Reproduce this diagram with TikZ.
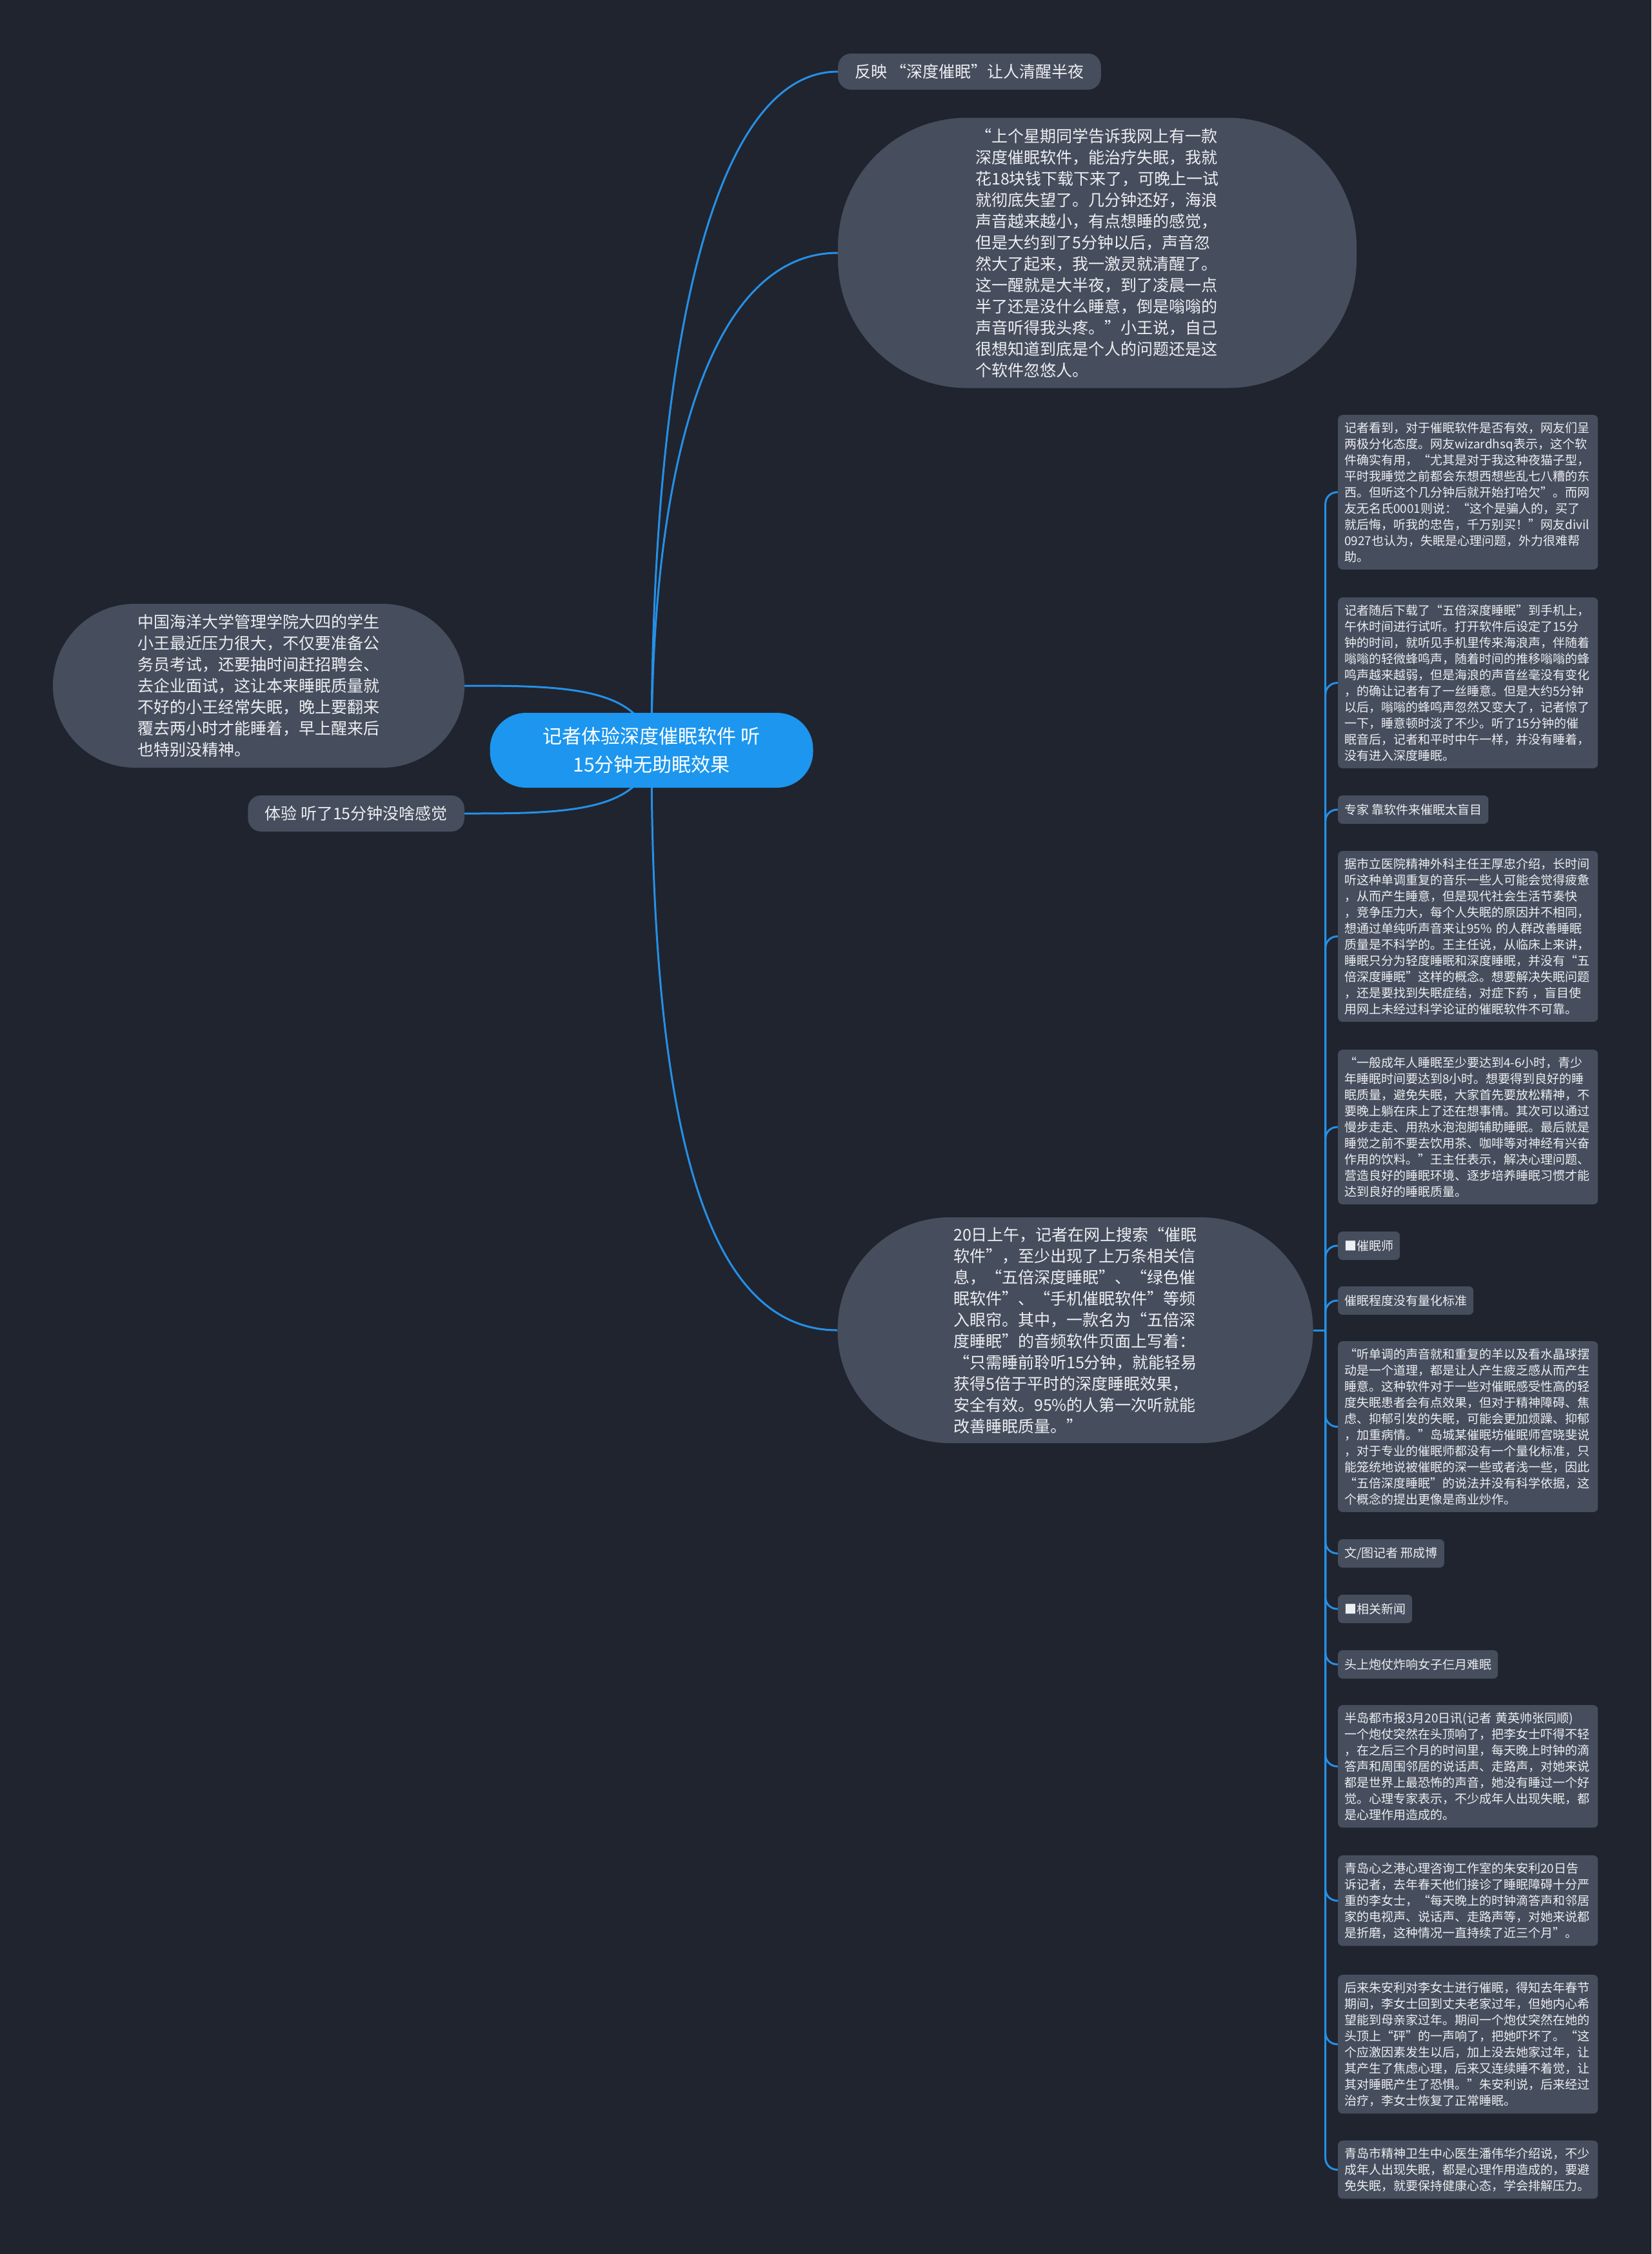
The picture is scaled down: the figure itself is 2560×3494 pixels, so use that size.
\documentclass[tikz,border=0pt]{standalone}
\usepackage{fontspec}
\setmainfont{Noto Sans CJK SC}
\usepackage{tikz}
\usetikzlibrary{backgrounds,calc}
\setlength{\parindent}{0pt}
\definecolor{mmBack}{HTML}{20242F}
\definecolor{mmFill}{HTML}{464D5C}
\definecolor{mmRoot}{HTML}{1C96EE}
\definecolor{mmLine}{HTML}{2590E6}
\definecolor{mmText}{HTML}{ECEEF2}
\tikzset{
  mmroot/.style={fill=mmRoot,text=white,rounded corners=56pt,align=center,
                 minimum width=501pt,minimum height=116pt,font={\fontsize{30}{44}\selectfont}},
  mmbig/.style={fill=mmFill,text=mmText,align=left,font={\fontsize{25}{33}\selectfont}},
  mmtag/.style={fill=mmFill,text=mmText,rounded corners=20pt,inner xsep=26pt,
                minimum height=56pt,font={\fontsize{25}{30}\selectfont}},
  mmnote/.style={fill=mmFill,text=mmText,rounded corners=7pt,align=left,text width=383pt,
                 inner xsep=10pt,inner ysep=11pt,anchor=north west,font={\fontsize{19}{25}\selectfont}},
  mmlabel/.style={fill=mmFill,text=mmText,rounded corners=7pt,inner xsep=10pt,
                  minimum height=44pt,anchor=west,font={\fontsize{19}{25}\selectfont}},
  mmlink/.style={draw=mmLine,line width=3pt},
}

\begin{document}
\begin{tikzpicture}[x=1pt,y=-1pt]
  \useasboundingbox (0,0) rectangle (2560,3494);
  \begin{scope}[on background layer]
    \fill[mmBack] (0,0) rectangle (2560,3494);
  \end{scope}

  % Central topic.
  \node[mmroot] (R) at (1010,1163) {记者体验深度催眠软件 听\\15分钟无助眠效果};

  % Upper branches.
  \node[mmtag,anchor=west] (A) at (1299,111) {反映 “深度催眠”让人清醒半夜};
  \node[mmbig,rounded corners=200pt,minimum width=804pt,minimum height=419pt] (B) at (1701,392)
    {“上个星期同学告诉我网上有一款\\深度催眠软件，能治疗失眠，我就\\花18块钱下载下来了，可晚上一试\\就彻底失望了。几分钟还好，海浪\\声音越来越小，有点想睡的感觉，\\但是大约到了5分钟以后，声音忽\\然大了起来，我一激灵就清醒了。\\这一醒就是大半夜，到了凌晨一点\\半了还是没什么睡意，倒是嗡嗡的\\声音听得我头疼。”小王说，自己\\很想知道到底是个人的问题还是这\\个软件忽悠人。};

  % Left branches.
  \node[mmbig,rounded corners=127pt,minimum width=638pt,minimum height=254pt] (C) at (401,1063)
    {中国海洋大学管理学院大四的学生\\小王最近压力很大，不仅要准备公\\务员考试，还要抽时间赶招聘会、\\去企业面试，这让本来睡眠质量就\\不好的小王经常失眠，晚上要翻来\\覆去两小时才能睡着，早上醒来后\\也特别没精神。};
  \node[mmtag,anchor=east] (D) at (720,1261) {体验 听了15分钟没啥感觉};

  % Lower branch and its notes.
  \node[mmbig,rounded corners=174pt,minimum width=737pt,minimum height=350pt] (E) at (1667,2062)
    {20日上午，记者在网上搜索“催眠\\软件”，至少出现了上万条相关信\\息，“五倍深度睡眠”、“绿色催\\眠软件”、“手机催眠软件”等频\\入眼帘。其中，一款名为“五倍深\\度睡眠”的音频软件页面上写着：\\“只需睡前聆听15分钟，就能轻易\\获得5倍于平时的深度睡眠效果，\\安全有效。95\%的人第一次听就能\\改善睡眠质量。”};

  \node[mmnote] (N1) at (2074,643)
    {记者看到，对于催眠软件是否有效，网友们呈\\两极分化态度。网友wizardhsq表示，这个软\\件确实有用，“尤其是对于我这种夜猫子型，\\平时我睡觉之前都会东想西想些乱七八糟的东\\西。但听这个几分钟后就开始打哈欠”。而网\\友无名氏0001则说：“这个是骗人的，买了\\就后悔，听我的忠告，千万别买！”网友divil\\0927也认为，失眠是心理问题，外力很难帮\\助。};
  \node[mmnote] (N2) at (2074,926)
    {记者随后下载了“五倍深度睡眠”到手机上，\\午休时间进行试听。打开软件后设定了15分\\钟的时间，就听见手机里传来海浪声，伴随着\\嗡嗡的轻微蜂鸣声，随着时间的推移嗡嗡的蜂\\鸣声越来越弱，但是海浪的声音丝毫没有变化\\，的确让记者有了一丝睡意。但是大约5分钟\\以后，嗡嗡的蜂鸣声忽然又变大了，记者惊了\\一下，睡意顿时淡了不少。听了15分钟的催\\眠音后，记者和平时中午一样，并没有睡着，\\没有进入深度睡眠。};
  \node[mmlabel] (N3) at (2074,1255) {专家 靠软件来催眠太盲目};
  \node[mmnote] (N4) at (2074,1319)
    {据市立医院精神外科主任王厚忠介绍，长时间\\听这种单调重复的音乐一些人可能会觉得疲惫\\，从而产生睡意，但是现代社会生活节奏快\\，竞争压力大，每个人失眠的原因并不相同，\\想通过单纯听声音来让95\% 的人群改善睡眠\\质量是不科学的。王主任说，从临床上来讲，\\睡眠只分为轻度睡眠和深度睡眠，并没有“五\\倍深度睡眠”这样的概念。想要解决失眠问题\\，还是要找到失眠症结，对症下药 ，盲目使\\用网上未经过科学论证的催眠软件不可靠。};
  \node[mmnote] (N5) at (2074,1627)
    {“一般成年人睡眠至少要达到4-6小时，青少\\年睡眠时间要达到8小时。想要得到良好的睡\\眠质量，避免失眠，大家首先要放松精神，不\\要晚上躺在床上了还在想事情。其次可以通过\\慢步走走、用热水泡泡脚辅助睡眠。最后就是\\睡觉之前不要去饮用茶、咖啡等对神经有兴奋\\作用的饮料。”王主任表示，解决心理问题、\\营造良好的睡眠环境、逐步培养睡眠习惯才能\\达到良好的睡眠质量。};
  \node[mmlabel] (N6) at (2074,1931) {■催眠师};
  \node[mmlabel] (N7) at (2074,2016) {催眠程度没有量化标准};
  \node[mmnote] (N8) at (2074,2079)
    {“听单调的声音就和重复的羊以及看水晶球摆\\动是一个道理，都是让人产生疲乏感从而产生\\睡意。这种软件对于一些对催眠感受性高的轻\\度失眠患者会有点效果，但对于精神障碍、焦\\虑、抑郁引发的失眠，可能会更加烦躁、抑郁\\，加重病情。”岛城某催眠坊催眠师宫晓斐说\\，对于专业的催眠师都没有一个量化标准，只\\能笼统地说被催眠的深一些或者浅一些，因此\\“五倍深度睡眠”的说法并没有科学依据，这\\个概念的提出更像是商业炒作。};
  \node[mmlabel] (N9) at (2074,2408) {文/图记者 邢成博};
  \node[mmlabel] (N10) at (2074,2494) {■相关新闻};
  \node[mmlabel] (N11) at (2074,2580) {头上炮仗炸响女子仨月难眠};
  \node[mmnote] (N12) at (2074,2643)
    {半岛都市报3月20日讯(记者 黄英帅张同顺)\\一个炮仗突然在头顶响了，把李女士吓得不轻\\，在之后三个月的时间里，每天晚上时钟的滴\\答声和周围邻居的说话声、走路声，对她来说\\都是世界上最恐怖的声音，她没有睡过一个好\\觉。心理专家表示，不少成年人出现失眠，都\\是心理作用造成的。};
  \node[mmnote] (N13) at (2074,2876)
    {青岛心之港心理咨询工作室的朱安利20日告\\诉记者，去年春天他们接诊了睡眠障碍十分严\\重的李女士，“每天晚上的时钟滴答声和邻居\\家的电视声、说话声、走路声等，对她来说都\\是折磨，这种情况一直持续了近三个月”。};
  \node[mmnote] (N14) at (2074,3061)
    {后来朱安利对李女士进行催眠，得知去年春节\\期间，李女士回到丈夫老家过年，但她内心希\\望能到母亲家过年。期间一个炮仗突然在她的\\头顶上“砰”的一声响了，把她吓坏了。“这\\个应激因素发生以后，加上没去她家过年，让\\其产生了焦虑心理，后来又连续睡不着觉，让\\其对睡眠产生了恐惧。”朱安利说，后来经过\\治疗，李女士恢复了正常睡眠。};
  \node[mmnote] (N15) at (2074,3318)
    {青岛市精神卫生中心医生潘伟华介绍说，不少\\成年人出现失眠，都是心理作用造成的，要避\\免失眠，就要保持健康心态，学会排解压力。};

  % Connectors, kept behind the nodes.
  \begin{scope}[on background layer]
    \draw[mmlink] (R.center) .. controls +(0,-600) and +(-200,0) .. (A.west);
    \draw[mmlink] (R.center) .. controls +(0,-440) and +(-200,0) .. (B.west);
    \draw[mmlink] (R.center) .. controls +(-10,-100) and +(150,0) .. (C.east);
    \draw[mmlink] (R.center) .. controls +(-10,98) and +(150,0) .. (D.east);
    \draw[mmlink] (R.center) .. controls +(0,600) and +(-200,0) .. (E.west);
    \draw[mmlink] (E.east) -- ++(19,0) coordinate (T);
    \foreach \n in {1,...,15}
      \draw[mmlink,rounded corners=18pt] (T) |- (N\n.west);
  \end{scope}
\end{tikzpicture}
\end{document}
